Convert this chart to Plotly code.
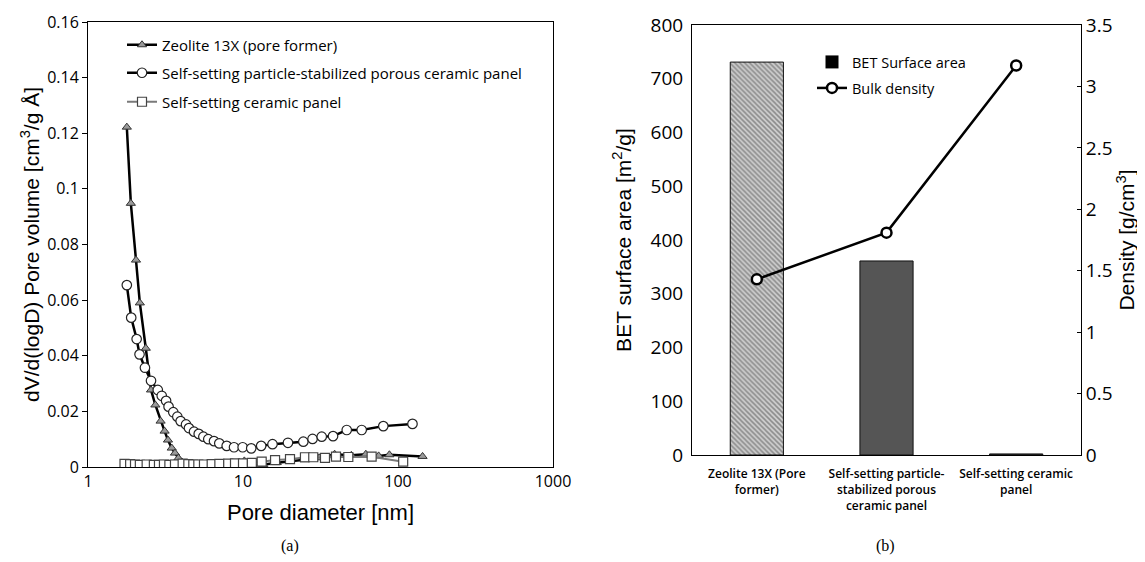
import plotly.graph_objects as go

# ---------------- (a) pore size distribution ----------------
zeo_d = [1.78, 1.89, 2.04, 2.16, 2.36, 2.55, 2.72, 2.94, 3.12, 3.28, 3.47, 3.64, 3.83, 4.04, 4.29,
         5.0, 6.0, 7.3, 8.7, 10.2, 11.3, 13.5, 16.5, 20, 25, 31, 39, 50, 62, 75, 88, 144]
zeo_v = [0.1222, 0.0948, 0.0744, 0.0590, 0.0427, 0.0277, 0.0223, 0.0165, 0.0129, 0.0097, 0.0068,
         0.0050, 0.0032, 0.0018, 0.0011, 0.0008, 0.0006, 0.0004, 0.0006, 0.0022, 0.0003, 0.0009,
         0.0016, 0.0021, 0.0026, 0.0033, 0.0046, 0.0042, 0.0046, 0.0040, 0.0044, 0.0038]

pan_d = [1.78, 1.90, 2.06, 2.15, 2.33, 2.55, 2.82, 2.99, 3.19, 3.31, 3.55, 3.77, 3.96, 4.29, 4.48,
         4.83, 5.18, 5.55, 5.97, 6.5, 7.03, 7.85, 8.75, 9.95, 11.3, 13.1, 15.5, 19.5, 24.5, 28.1,
         32.2, 38.1, 46.7, 58.3, 80.4, 124]
pan_v = [0.0654, 0.0537, 0.0460, 0.0405, 0.0357, 0.0310, 0.0277, 0.0256, 0.0238, 0.0217, 0.0197,
         0.0181, 0.0165, 0.0153, 0.0140, 0.0127, 0.0119, 0.0109, 0.0100, 0.0093, 0.0085, 0.0076,
         0.0071, 0.0071, 0.0067, 0.0076, 0.0082, 0.0087, 0.0091, 0.0101, 0.0109, 0.0111, 0.0133,
         0.0133, 0.0147, 0.0155]

cer_d = [1.72, 1.87, 2.01, 2.16, 2.39, 2.66, 2.87, 3.09, 3.35, 3.64, 4.08, 4.44, 4.78, 5.15, 5.6,
         6.28, 7.04, 8.03, 8.88, 10.0, 11.4, 13.2, 16.1, 20.1, 25.1, 28.4, 33.8, 39.8, 47.8, 67.6, 108]
cer_v = [0.0011, 0.0010, 0.0009, 0.0008, 0.0009, 0.0008, 0.0008, 0.0009, 0.0008, 0.0009, 0.0012,
         0.0010, 0.0009, 0.0009, 0.0009, 0.0010, 0.0011, 0.0012, 0.0013, 0.0013, 0.0015, 0.0019,
         0.0025, 0.0028, 0.0035, 0.0035, 0.0033, 0.0037, 0.0036, 0.0037, 0.0019]

# ---------------- (b) BET + density ----------------
categories = ["Zeolite 13X (Pore<br>former)",
              "Self-setting particle-<br>stabilized porous<br>ceramic panel",
              "Self-setting ceramic<br>panel"]
bet_area = [731, 361, 2]
bulk_density = [1.43, 1.81, 3.17]
cat_pos = [0, 1, 2]

TICKFONT = dict(family="Open Sans", size=16, color="#000")
TITLEFONT = dict(family="Liberation Sans", size=21, color="#000")
LEGFONT = dict(family="Open Sans", size=15, color="#000")
LEGFONT_R = dict(family="Open Sans", size=14.5, color="#000")

fig = go.Figure()

fig.add_trace(go.Scatter(
    x=zeo_d, y=zeo_v, mode="lines+markers", name="Zeolite 13X (pore former)",
    line=dict(color="#000", width=2.5),
    marker=dict(symbol="triangle-up", size=8, color="#9a9a9a", line=dict(color="#333", width=1)),
    xaxis="x", yaxis="y", legend="legend"))
fig.add_trace(go.Scatter(
    x=pan_d, y=pan_v, mode="lines+markers",
    name="Self-setting particle-stabilized porous ceramic panel",
    line=dict(color="#000", width=2.5),
    marker=dict(symbol="circle", size=9.5, color="#fff", line=dict(color="#222", width=1.2)),
    xaxis="x", yaxis="y", legend="legend2"))
fig.add_trace(go.Scatter(
    x=cer_d, y=cer_v, mode="lines+markers", name="Self-setting ceramic panel",
    line=dict(color="#7a7a7a", width=2),
    marker=dict(symbol="square", size=9, color="#fff", line=dict(color="#444", width=1.2)),
    xaxis="x", yaxis="y", legend="legend3"))

fig.add_trace(go.Bar(
    x=cat_pos, y=bet_area, width=0.41, showlegend=False,
    marker=dict(color=["#d0d0d0", "#555555", "#333333"],
                line=dict(color="#111", width=1),
                pattern=dict(shape=["\\", "", ""], fgcolor="#2a2a2a", size=3.5, solidity=0.45,
                             fillmode="overlay")),
    xaxis="x2", yaxis="y2"))
fig.add_trace(go.Scatter(
    x=[None], y=[None], mode="markers", name="BET Surface area",
    marker=dict(symbol="square", size=13, color="#000"),
    xaxis="x2", yaxis="y2", legend="legend4"))
fig.add_trace(go.Scatter(
    x=cat_pos, y=bulk_density, mode="lines+markers", name="Bulk density",
    line=dict(color="#000", width=2.5),
    marker=dict(symbol="circle", size=10, color="#fff", line=dict(color="#000", width=2.5)),
    xaxis="x2", yaxis="y3", legend="legend5"))

# page body adds an 8 px offset; size figure to fit the remaining window
OFF = 8
W, H = 1145 - OFF, 562 - OFF
def px(x):
    return (x - OFF) / W
def py(y):
    return 1 - (y - OFF) / H

def leg(xpix, ypix, font):
    return dict(x=px(xpix), y=py(ypix), xanchor="left", yanchor="middle",
                bgcolor="rgba(0,0,0,0)", font=font, itemwidth=30)

fig.update_layout(
    width=W, height=H, margin=dict(l=0, r=0, t=0, b=0, autoexpand=False),
    paper_bgcolor="#fff", plot_bgcolor="#fff",
    xaxis=dict(domain=[px(88), px(553)], type="log", range=[0, 3],
               tickvals=[1, 10, 100, 1000], ticktext=["1", "10", "100", "1000"],
               showgrid=False, zeroline=False, showline=True, mirror=True,
               linecolor="#000", linewidth=1, ticks="", tickfont=TICKFONT,
               title=dict(text="Pore diameter [nm]", font=dict(family="Liberation Sans", size=22, color="#000"),
                          standoff=13),
               automargin=False, anchor="y"),
    yaxis=dict(domain=[py(467), py(22)], range=[0, 0.16], dtick=0.02,
               showgrid=False, zeroline=False, showline=True, mirror=True,
               linecolor="#000", linewidth=1, ticks="outside", ticklen=5, tickcolor="#000",
               tickfont=TICKFONT, automargin=False,
               title=dict(text="dV/d(logD) Pore volume [cm<sup>3</sup>/g Å]", font=TITLEFONT,
                          standoff=1),
               anchor="x"),
    xaxis2=dict(domain=[px(692), px(1081)], range=[-0.5, 2.5],
                tickvals=cat_pos, ticktext=categories,
                showgrid=False, zeroline=False, showline=True, mirror=True,
                linecolor="#000", linewidth=1, ticks="", automargin=False,
                ticklabelstandoff=8,
                tickfont=dict(family="Open Sans", size=12, color="#000", weight=600),
                anchor="y2"),
    yaxis2=dict(domain=[py(455), py(25)], range=[0, 800], dtick=100,
                showgrid=False, zeroline=False, showline=True, mirror=False,
                linecolor="#000", linewidth=1, ticks="", automargin=False,
                tickfont=dict(family="Open Sans", size=19, color="#000"),
                ticklabelstandoff=4,
                title=dict(text="BET surface area [m<sup>2</sup>/g]", font=TITLEFONT, standoff=13),
                anchor="x2"),
    yaxis3=dict(domain=[py(455), py(25)], range=[0, 3.5], dtick=0.5, overlaying="y2",
                side="right", anchor="x2", automargin=False,
                showgrid=False, zeroline=False, showline=True,
                linecolor="#000", linewidth=1, ticks="inside", ticklen=4, tickcolor="#000",
                tickfont=dict(family="Open Sans", size=19, color="#000"),
                title=dict(text="Density [g/cm<sup>3</sup>]", font=TITLEFONT, standoff=6)),
    legend=leg(122, 45, LEGFONT),
    legend2=leg(122, 73, LEGFONT),
    legend3=leg(122, 102, LEGFONT),
    legend4=leg(812, 62, LEGFONT_R),
    legend5=leg(812, 88, LEGFONT_R),
    annotations=[
        dict(text="(a)", x=px(290), y=py(546), xref="paper", yref="paper", showarrow=False,
             xanchor="center", yanchor="middle",
             font=dict(family="Liberation Serif", size=16, color="#000")),
        dict(text="(b)", x=px(885), y=py(546), xref="paper", yref="paper", showarrow=False,
             xanchor="center", yanchor="middle",
             font=dict(family="Liberation Serif", size=16, color="#000")),
    ],
)

fig.write_html("out.html")
